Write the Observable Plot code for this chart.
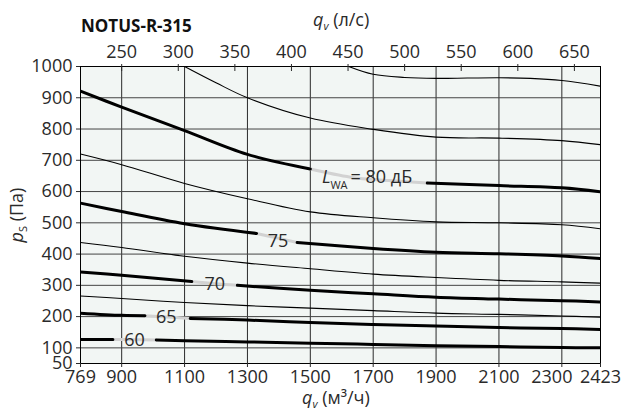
<!DOCTYPE html>
<html>
<head>
<meta charset="utf-8">
<script src="https://cdn.jsdelivr.net/npm/d3@7"></script>
<script src="https://cdn.jsdelivr.net/npm/@observablehq/plot@0.6"></script>
<style>
  html, body { margin: 0; padding: 0; background: #fff; }
  #chart { width: 626px; height: 419px; }
</style>
</head>
<body>
<div id="chart"></div>
<script>
// ---- Data ----
const title = "NOTUS-R-315";
const qBottomTicks = [769, 900, 1100, 1300, 1500, 1700, 1900, 2100, 2300, 2423];
const qGrid = [900, 1100, 1300, 1500, 1700, 1900, 2100, 2300];
const lsTicks = [250, 300, 350, 400, 450, 500, 550, 600, 650];
const pTicks = [50, 100, 200, 300, 400, 500, 600, 700, 800, 900, 1000];
const pGrid = [100, 200, 300, 400, 500, 600, 700, 800, 900];

// Sound-power isolines, q in m³/h, p in Pa
const q60 = [769, 872, 941, 1010, 1100, 1300, 1500, 1700, 1900, 2100, 2300, 2423];
const p60 = [127, 127, 126, 125, 123, 119, 115, 111, 107, 104, 101, 100];
const q65 = [769, 900, 974, 1042, 1118, 1300, 1500, 1700, 1900, 2100, 2300, 2423];
const p65 = [211, 204, 203, 199, 194, 189, 181, 175, 170, 165, 162, 159];
const q70 = [769, 900, 1123, 1196, 1268, 1500, 1700, 1900, 2100, 2300, 2423];
const p70 = [343, 332, 312, 305, 300, 284, 273, 262, 256, 251, 247];
const q75 = [769, 900, 1100, 1329, 1397, 1458, 1700, 1900, 2100, 2300, 2423];
const p75 = [563, 536, 497, 466, 451, 437, 418, 406, 401, 394, 386];
const q80 = [769, 900, 1100, 1300, 1500, 1628, 1750, 1872, 2100, 2300, 2423];
const p80 = [921, 870, 795, 719, 672, 646, 635, 627, 619, 612, 599];

const q675 = [769, 900, 1100, 1300, 1500, 1700, 1900, 2100, 2300, 2423];
const p675 = [266, 258, 245, 235, 227, 219, 211, 207, 202, 198];
const q725 = [769, 900, 1100, 1300, 1500, 1700, 1900, 2100, 2300, 2423];
const p725 = [437, 421, 393, 371, 353, 336, 325, 316, 311, 307];
const q775 = [769, 900, 1100, 1300, 1500, 1700, 1900, 2100, 2300, 2423];
const p775 = [720, 686, 626, 577, 535, 516, 503, 500, 494, 481];
const q825 = [1100, 1200, 1300, 1500, 1700, 1900, 2100, 2300, 2423];
const p825 = [1000, 948, 900, 835, 799, 774, 771, 763, 750];
const q85 = [1622, 1700, 1800, 1900, 2000, 2100, 2200, 2300, 2423];
const p85 = [1000, 975, 965, 962, 963, 964, 962, 955, 937];

// label positions on the major curves
const labelText = ["60", "65", "70", "75"];
const labelQ = [941, 1042, 1196, 1397];
const labelP = [124, 198, 303, 441];
const label80 = {q: 1628, p: 645, main: "= 80 дБ", sym: "L", sub: "WA"};

const curves = [
  {level: 60, kind: "major", q: q60, p: p60, gap: [872, 1010]},
  {level: 65, kind: "major", q: q65, p: p65, gap: [974, 1118]},
  {level: 70, kind: "major", q: q70, p: p70, gap: [1123, 1268]},
  {level: 75, kind: "major", q: q75, p: p75, gap: [1329, 1458]},
  {level: 80, kind: "major", q: q80, p: p80, gap: [1500, 1872]},
  {level: 67.5, kind: "minor", q: q675, p: p675},
  {level: 72.5, kind: "minor", q: q725, p: p725},
  {level: 77.5, kind: "minor", q: q775, p: p775},
  {level: 82.5, kind: "minor", q: q825, p: p825},
  {level: 85, kind: "minor", q: q85, p: p85}
];

const rows = curves.flatMap(c => c.q.map((q, i) => ({
  level: c.level, kind: c.kind, q, p: c.p[i],
  inGap: c.gap ? (q > c.gap[0] && q < c.gap[1]) : false,
  gapPart: c.gap ? (q >= c.gap[0] && q <= c.gap[1]) : false
})));
const minor = rows.filter(d => d.kind === "minor");
const major = rows.filter(d => d.kind === "major");
const gapRows = major.filter(d => d.gapPart);
const labels = labelText.map((t, i) => ({t, q: labelQ[i], p: labelP[i]}));
const shiftedTick = [2300];

const font = "'Open Sans', 'Noto Sans', sans-serif";
const ink = "#2a2a2a";
const curveType = "catmull-rom";

const chart = Plot.plot({
  width: 626,
  height: 419,
  marginLeft: 80,
  marginRight: 26,
  marginTop: 66,
  marginBottom: 56,
  style: {fontFamily: font, fontSize: "18px", color: ink, background: "#fff", overflow: "visible"},
  x: {domain: [769, 2423]},
  y: {domain: [50, 1000]},
  marks: [
    Plot.frame({fill: "#f2f6f4", stroke: null}),
    Plot.ruleX(qGrid, {stroke: "#2a2a2a", strokeWidth: 1}),
    Plot.ruleY(pGrid, {stroke: "#444", strokeWidth: 1}),
    Plot.line(minor, {x: "q", y: "p", z: "level", stroke: "#000", strokeWidth: 1.1, curve: curveType, clip: true}),
    Plot.line(gapRows, {x: "q", y: "p", z: "level", stroke: "#d2d2d2", strokeWidth: 3, curve: curveType}),
    Plot.line(major, {x: "q", y: d => d.inGap ? NaN : d.p, z: "level", stroke: "#000", strokeWidth: 3, curve: curveType, clip: true}),
    Plot.text(labels, {x: "q", y: "p", text: "t", fontSize: 18, fill: ink}),
    Plot.text([label80], {x: "q", y: "p", text: "main", textAnchor: "start", fontSize: 18, fill: ink}),
    Plot.text([label80], {x: "q", y: "p", text: "sub", textAnchor: "end", dx: -3, dy: 8, fontSize: 11, fill: ink}),
    Plot.text([label80], {x: "q", y: "p", text: "sym", textAnchor: "end", dx: -20, fontSize: 18, fontStyle: "italic", fill: ink}),
    Plot.frame({stroke: "#000", strokeWidth: 1}),
    Plot.axisX(qBottomTicks, {anchor: "bottom", tickSize: 4, tickPadding: 3, tickFormat: d => shiftedTick.includes(d) ? "" : String(d), label: null, fontSize: 18}),
    Plot.axisX(shiftedTick, {anchor: "bottom", tickSize: 0, tickPadding: 7, dx: -10, tickFormat: d => String(d), label: null, fontSize: 18}),
    Plot.axisX(lsTicks.map(d => d * 3.6), {anchor: "top", tickSize: 7, dy: 4, tickPadding: 6, tickFormat: d => String(Math.round(d / 3.6)), label: null, fontSize: 18}),
    Plot.axisY(pTicks, {anchor: "left", tickSize: 4, tickPadding: 4, tickFormat: d => String(d), label: null, fontSize: 18})
  ]
});

document.getElementById("chart").append(chart);

// Titles and axis labels
const svgSel = d3.select(chart);
const gTitles = svgSel.append("g").attr("font-family", font).attr("fill", ink).attr("text-anchor", "start");
gTitles.append("text").attr("x", 81).attr("y", 32).attr("font-size", 17).attr("font-weight", "bold").attr("fill", "#111").text(title);

const topLabel = gTitles.append("text").attr("x", 313).attr("y", 26).attr("font-size", 18);
topLabel.append("tspan").attr("font-style", "italic").text("q");
topLabel.append("tspan").attr("font-style", "italic").attr("font-size", 11).attr("dy", 4).text("v");
topLabel.append("tspan").attr("dy", -4).text(" (л/с)");

const botLabel = gTitles.append("text").attr("x", 302).attr("y", 404).attr("font-size", 18);
botLabel.append("tspan").attr("font-style", "italic").text("q");
botLabel.append("tspan").attr("font-style", "italic").attr("font-size", 11).attr("dy", 4).text("v");
botLabel.append("tspan").attr("dy", -4).text(" (м³/ч)");

const yLabel = gTitles.append("text").attr("transform", "translate(23,215) rotate(-90)").attr("text-anchor", "middle").attr("font-size", 18);
yLabel.append("tspan").attr("font-style", "italic").text("p");
yLabel.append("tspan").attr("font-size", 11).attr("dy", 4).text("S");
yLabel.append("tspan").attr("dy", -4).text(" (Па)");
</script>
</body>
</html>
